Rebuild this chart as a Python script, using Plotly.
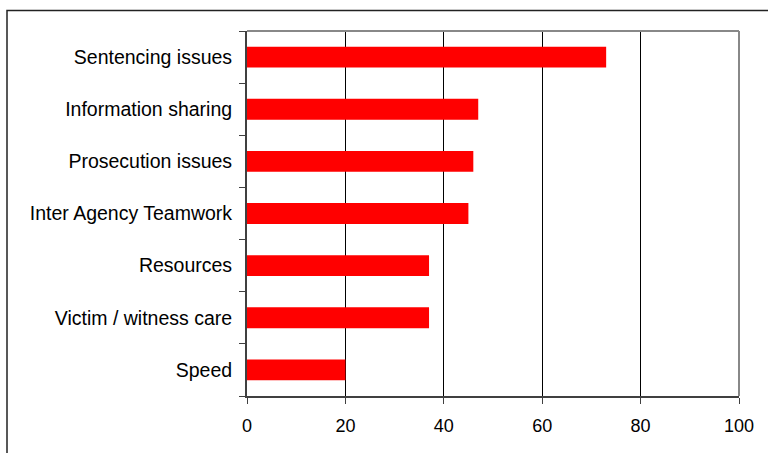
import plotly.graph_objects as go

# Issues, listed top to bottom as shown on the chart
categories = [
    "Sentencing issues",
    "Information sharing",
    "Prosecution issues",
    "Inter Agency Teamwork",
    "Resources",
    "Victim / witness care",
    "Speed",
]
values = [73, 47, 46, 45, 37, 37, 20]
x_ticks = [0, 20, 40, 60, 80, 100]

W, H = 768, 453
L, R, T, B = 247, 29, 31, 57
pw, ph = W - L - R, H - T - B

fig = go.Figure(
    go.Bar(
        x=values,
        y=categories,
        orientation="h",
        marker=dict(color="#ff0000", line=dict(width=0)),
    )
)

family = "Liberation Sans, Arial, sans-serif"
xfont = dict(family=family, size=18, color="#000000")
yfont = dict(family=family, size=19.5, color="#000000")

fig.update_layout(
    width=W,
    height=H,
    margin=dict(l=L, r=R, t=T, b=B, pad=0),
    paper_bgcolor="white",
    plot_bgcolor="white",
    bargap=0.6,
    showlegend=False,
    font=xfont,
    xaxis=dict(
        range=[0, 100],
        tickvals=x_ticks,
        ticktext=[str(v) for v in x_ticks],
        showgrid=True,
        gridcolor="#000000",
        gridwidth=1,
        zeroline=False,
        showline=True,
        linecolor="#404040",
        linewidth=2,
        ticks="outside",
        ticklen=6,
        tickcolor="#404040",
        tickwidth=1,
        ticklabelstandoff=6,
        tickfont=xfont,
    ),
    yaxis=dict(
        categoryorder="array",
        categoryarray=categories[::-1],
        showgrid=False,
        zeroline=False,
        showline=True,
        linecolor="#404040",
        linewidth=2,
        ticks="outside",
        tickson="boundaries",
        ticklen=6,
        tickcolor="#404040",
        tickwidth=1,
        ticklabelstandoff=9,
        tickfont=yfont,
    ),
)

# Grey frame on the top and right of the plot area
fig.add_shape(type="line", xref="paper", yref="paper", x0=0, x1=1, y0=1, y1=1,
              line=dict(color="#888888", width=2), layer="above")
fig.add_shape(type="line", xref="paper", yref="paper", x0=1, x1=1, y0=0, y1=1,
              line=dict(color="#888888", width=2), layer="above")

# Outer chart border
fig.add_shape(type="rect", xref="paper", yref="paper",
              x0=(7 - L) / pw, x1=1.2, y0=-0.3, y1=(H - B - 10.5) / ph,
              line=dict(color="#222222", width=1.5), layer="above")

fig.write_html("out.html")
